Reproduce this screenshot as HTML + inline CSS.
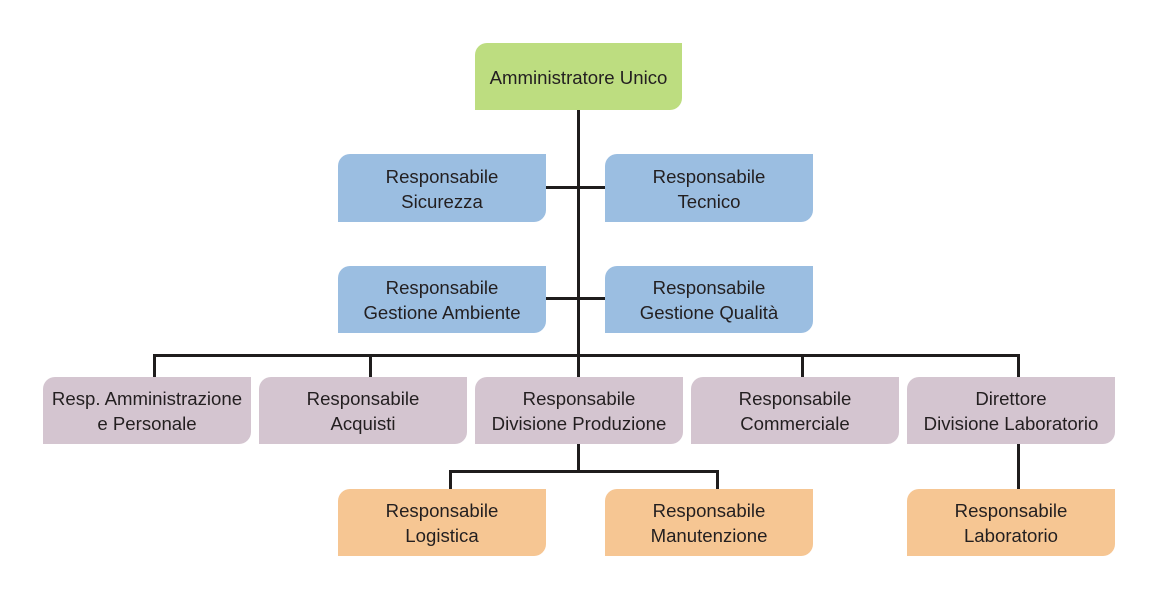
<!DOCTYPE html>
<html><head><meta charset="utf-8"><style>
html,body{margin:0;padding:0;background:#fff;}
body{width:1157px;height:600px;position:relative;overflow:hidden;font-family:"Liberation Sans",Arial,sans-serif;}
.b{position:absolute;display:flex;align-items:center;justify-content:center;text-align:center;font-size:18.6px;line-height:25px;color:#231f20;border-radius:12px 0 12px 0;box-sizing:border-box;padding-top:1px;}
.g{background:#bddd80;}
.bl{background:#9bbee1;}
.p{background:#d4c5d0;}
.o{background:#f6c693;}
.l{position:absolute;background:#1f1d1d;}
</style></head><body>
<!-- lines -->
<div class="l" style="left:577px;top:108px;width:3px;height:272px"></div>
<div class="l" style="left:544px;top:186px;width:63px;height:3px"></div>
<div class="l" style="left:544px;top:297px;width:63px;height:3px"></div>
<div class="l" style="left:153px;top:354px;width:867px;height:3px"></div>
<div class="l" style="left:153px;top:354px;width:3px;height:25px"></div>
<div class="l" style="left:369px;top:354px;width:3px;height:25px"></div>
<div class="l" style="left:801px;top:354px;width:3px;height:25px"></div>
<div class="l" style="left:1017px;top:354px;width:3px;height:25px"></div>
<div class="l" style="left:577px;top:442px;width:3px;height:30px"></div>
<div class="l" style="left:449px;top:470px;width:270px;height:3px"></div>
<div class="l" style="left:449px;top:470px;width:3px;height:21px"></div>
<div class="l" style="left:716px;top:470px;width:3px;height:21px"></div>
<div class="l" style="left:1017px;top:442px;width:3px;height:49px"></div>

<!-- boxes -->
<div class="b g" style="left:475px;top:43px;width:207px;height:67px">Amministratore Unico</div>

<div class="b bl" style="left:338px;top:154px;width:208px;height:68px">Responsabile<br>Sicurezza</div>
<div class="b bl" style="left:605px;top:154px;width:208px;height:68px">Responsabile<br>Tecnico</div>
<div class="b bl" style="left:338px;top:266px;width:208px;height:67px">Responsabile<br>Gestione Ambiente</div>
<div class="b bl" style="left:605px;top:266px;width:208px;height:67px">Responsabile<br>Gestione Qualità</div>

<div class="b p" style="left:43px;top:377px;width:208px;height:67px">Resp. Amministrazione<br>e Personale</div>
<div class="b p" style="left:259px;top:377px;width:208px;height:67px">Responsabile<br>Acquisti</div>
<div class="b p" style="left:475px;top:377px;width:208px;height:67px">Responsabile<br>Divisione Produzione</div>
<div class="b p" style="left:691px;top:377px;width:208px;height:67px">Responsabile<br>Commerciale</div>
<div class="b p" style="left:907px;top:377px;width:208px;height:67px">Direttore<br>Divisione Laboratorio</div>

<div class="b o" style="left:338px;top:489px;width:208px;height:67px">Responsabile<br>Logistica</div>
<div class="b o" style="left:605px;top:489px;width:208px;height:67px">Responsabile<br>Manutenzione</div>
<div class="b o" style="left:907px;top:489px;width:208px;height:67px">Responsabile<br>Laboratorio</div>
</body></html>
